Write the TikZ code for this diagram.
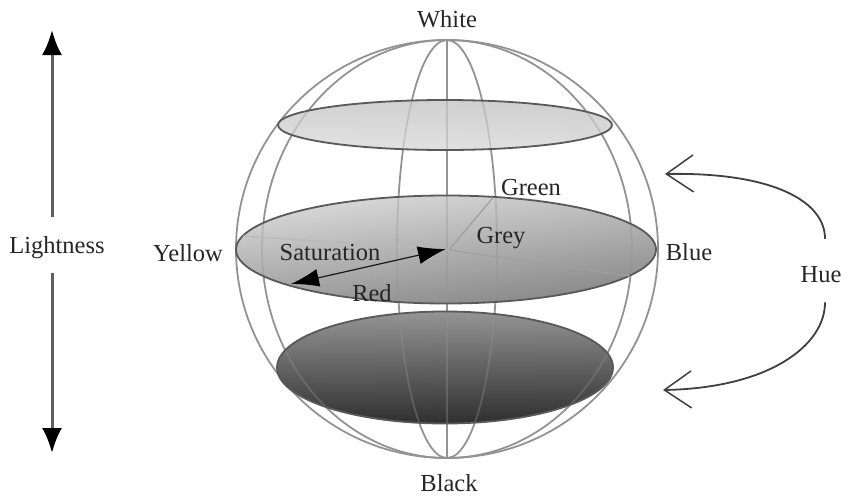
\documentclass[tikz,border=0pt]{standalone}
\usepackage{fontspec}
\setmainfont{Liberation Serif}
\usetikzlibrary{arrows.meta}
\begin{document}
\begin{tikzpicture}[x=1pt,y=-1pt,
  lbl/.style={font=\fontsize{24.5}{28}\selectfont, text=black!85, inner sep=0pt, anchor=base},
  merid/.style={draw=gray!85, line width=1.8pt},
  rimline/.style={draw=gray!70!black, line width=1.8pt},
  radius line/.style={draw=gray!75, line width=1.2pt},
  lightarrow/.style={draw=gray!75!black, line width=3pt, -{Latex[length=25pt,width=20pt,color=black,fill=black]}},
  huearrow/.style={draw=black!75, line width=1.8pt, -{Straight Barb[length=27pt,width=37pt,line width=1.5pt]}},
  satarrow/.style={draw=black!90, line width=1.2pt, {Latex[length=28pt,width=18pt,color=black,fill=black]}-{Latex[length=28pt,width=18pt,color=black,fill=black]}}
]
\useasboundingbox (0,0) rectangle (848,496);

% sphere wire frame
\coordinate (C) at (447,249);
\coordinate (Ntop) at (447,40);
\coordinate (Sbot) at (447,458);
\draw[merid] (C) ellipse [x radius=211pt, y radius=209pt];
\draw[merid] (C) ellipse [x radius=185pt, y radius=209pt];
\draw[merid] (C) ellipse [x radius=50pt, y radius=209pt];
\draw[merid] (Ntop) -- (Sbot);

% top disc
\coordinate (D1) at (445,125);
\shade[left color=gray!40, middle color=white, right color=gray!45] (D1) ellipse [x radius=167pt, y radius=25pt];
\shade[top color=gray!30, bottom color=white, opacity=0.45] (D1) ellipse [x radius=167pt, y radius=25pt];

% middle disc
\coordinate (D2) at (446,249.5);
\shade[left color=gray!38, middle color=white, right color=gray!80] (D2) ellipse [x radius=210pt, y radius=54pt];
\shade[top color=white, bottom color=gray!70!black, opacity=0.4] (D2) ellipse [x radius=210pt, y radius=54pt];

% bottom disc
\coordinate (D3) at (445,367.5);
\shade[left color=gray!85!black, middle color=gray!70, right color=gray!80!black] (D3) ellipse [x radius=168pt, y radius=56pt];
\shade[top color=gray!55, bottom color=black, opacity=0.55] (D3) ellipse [x radius=168pt, y radius=56pt];

% meridians seen faintly through the discs
\begin{scope}
  \clip (D1) ellipse [x radius=167pt, y radius=25pt]
        (D2) ellipse [x radius=210pt, y radius=54pt]
        (D3) ellipse [x radius=168pt, y radius=56pt];
  \begin{scope}[opacity=0.35]
    \draw[merid] (C) ellipse [x radius=185pt, y radius=209pt];
    \draw[merid] (C) ellipse [x radius=50pt, y radius=209pt];
    \draw[merid] (Ntop) -- (Sbot);
  \end{scope}
\end{scope}

% disc rims
\draw[rimline] (D1) ellipse [x radius=167pt, y radius=25pt];
\draw[rimline] (D2) ellipse [x radius=210pt, y radius=54pt];
\draw[rimline] (D3) ellipse [x radius=168pt, y radius=56pt];

% radii on the middle disc
\coordinate (M) at (449,250);
\coordinate (Gr) at (493,197.5);
\coordinate (Rr) at (630,276);
\coordinate (Yr) at (243,236);
\draw[radius line] (M) -- (Gr);
\draw[radius line] (M) -- (Rr);
\draw[radius line, draw=gray!55] (M) -- (Yr);

% saturation arrow
\coordinate (s1) at (291,284);
\coordinate (s2) at (446,249);
\draw[satarrow] (s1) -- (s2);

% labels
\node[lbl] (white) at (447,27) {White};
\node[lbl] (black) at (449,491) {Black};
\node[lbl] (yellow) at (188,261) {Yellow};
\node[lbl] (blue) at (689,260) {Blue};
\node[lbl] (green) at (531,195) {Green};
\node[lbl] (grey) at (501,243) {Grey};
\node[lbl] (sat) at (330,260) {Saturation};
\node[lbl] (red) at (372,301) {Red};
\node[lbl] (light) at (57,253) {Lightness};
\node[lbl] (hue) at (821,282) {Hue};

% lightness arrows
\coordinate (la1) at (52,30);
\coordinate (la2) at (52,453);
\draw[lightarrow] ([yshift=19pt]light.north -| la1) -- (la1);
\draw[lightarrow] ([yshift=-15pt]light.south -| la2) -- (la2);

% hue arrows
\coordinate (h1) at (665,174);
\coordinate (h2) at (663,390);
\draw[huearrow] ([xshift=4pt,yshift=27pt]hue.north) .. controls (825,200) and (770,172) .. (h1);
\draw[huearrow] ([xshift=4pt,yshift=-20pt]hue.south) .. controls (825,345) and (770,388) .. (h2);
\end{tikzpicture}
\end{document}
